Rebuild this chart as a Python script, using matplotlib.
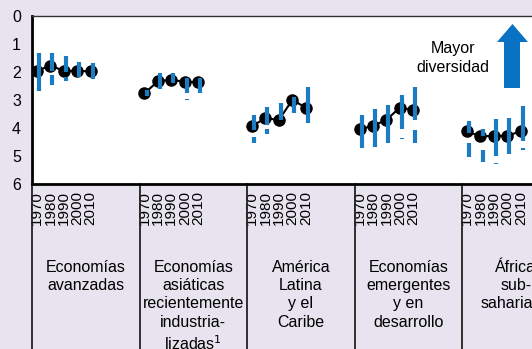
import numpy as np
import matplotlib
matplotlib.use("Agg")
import matplotlib.pyplot as plt
from matplotlib.transforms import blended_transform_factory
from matplotlib.lines import Line2D
from matplotlib.patches import Polygon

plt.rcParams['font.family'] = ['Liberation Sans', 'DejaVu Sans']

regions = ["Economías\navanzadas",
           "Economías\nasiáticas\nrecientemente\nindustria-\nlizadas$^{1}$",
           "América\nLatina\ny el\nCaribe",
           "Economías\nemergentes\ny en\ndesarrollo",
           "África\nsub-\nsahariana"]
years = ["1970", "1980", "1990", "2000", "2010"]

# index value (median) per region and decade
medians = [
    [1.95, 1.78, 1.95, 1.97, 1.97],
    [2.76, 2.33, 2.28, 2.35, 2.36],
    [3.93, 3.65, 3.71, 3.00, 3.27],
    [4.05, 3.92, 3.71, 3.27, 3.36],
    [4.12, 4.30, 4.28, 4.28, 4.11],
]
# blue range segments (first piece)
seg1_top = [
    [1.33, 1.33, 1.43, 1.63, 1.69],
    [2.65, 2.05, 2.05, 2.23, 2.23],
    [3.54, 3.26, 3.12, 2.88, 2.55],
    [3.54, 3.33, 3.18, 2.82, 2.55],
    [3.75, 4.04, 3.69, 3.63, 3.20],
]
seg1_bot = [
    [2.67, 1.98, 2.00, 2.19, 2.26],
    [2.85, 2.62, 2.40, 2.76, 2.76],
    [4.07, 3.89, 3.71, 3.48, 3.81],
    [4.73, 4.67, 4.52, 4.05, 3.71],
    [4.19, 4.30, 5.00, 4.94, 4.47],
]
# second piece (NaN = none)
nan = np.nan
seg2_top = [
    [nan, 2.10, 2.17, nan, nan],
    [nan, nan, nan, 2.96, nan],
    [4.31, 4.04, nan, nan, nan],
    [nan, nan, nan, 4.35, 4.07],
    [4.52, 4.79, 5.24, nan, 4.73],
]
seg2_bot = [
    [nan, 2.46, 2.31, nan, nan],
    [nan, nan, nan, 3.00, nan],
    [4.52, 4.23, nan, nan, nan],
    [nan, nan, nan, 4.39, 4.52],
    [5.02, 5.20, 5.28, nan, 4.77],
]

W, H = 532, 349
BG = '#e7e3ef'
BLUE = '#1b7cc4'
fig = plt.figure(figsize=(W / 100, H / 100), dpi=100, facecolor=BG)

unit = 13.44
left_px, top_px, bot_px = 32, 16, 184
ax = fig.add_axes([left_px / W, 1 - bot_px / H, 40 * unit / W, (bot_px - top_px) / H])
ax.set_facecolor('white')
ax.set_xlim(0, 40)
ax.set_ylim(6, 0)

GROUP = 8
x0 = 0.37
xpos = []
for g in range(5):
    xs = np.array([GROUP * g + x0 + j for j in range(5)])
    xpos.extend(xs)
    ax.plot(xs, medians[g], color='black', lw=1.5, marker='o', ms=8, zorder=3)
    xb = xs + 0.15
    ax.vlines(xb, seg1_top[g], seg1_bot[g], color=BLUE, lw=3.0, zorder=4)
    ax.vlines(xb, seg2_top[g], seg2_bot[g], color=BLUE, lw=3.0, zorder=4)

ax.set_yticks(range(7))
ax.tick_params(axis='y', length=0, pad=8, labelsize=11.5)
ax.set_xticks(xpos, labels=years * 5, rotation=90)
ax.tick_params(axis='x', length=0, pad=5, labelsize=11)

ax.spines['right'].set_visible(False)
ax.spines['left'].set_linewidth(2)
ax.spines['bottom'].set_linewidth(2)
ax.spines['top'].set_linewidth(1)
ax.spines['top'].set_color('#333333')

trans = blended_transform_factory(ax.transData, ax.transAxes)
for g in range(5):
    ax.add_line(Line2D([GROUP * g, GROUP * g], [0, -1.05], transform=trans,
                       color='#222222', lw=1.3, clip_on=False))
    ax.text(GROUP * g + 4, -0.45, regions[g], transform=trans, ha='center', va='top',
            fontsize=11.5, linespacing=1.28, clip_on=False)

# "Mayor diversidad" annotation with arrow
fig.text(453 / W, 1 - 58 / H, "Mayor\ndiversidad", ha='center', va='center',
         fontsize=11.5, linespacing=1.3)
pts_px = [(504, 88), (520, 88), (520, 42), (528, 42), (512.5, 24), (497, 42), (504, 42)]
arrow = Polygon([(x / W, 1 - y / H) for x, y in pts_px], closed=True,
                transform=fig.transFigure, facecolor='#0a72c2', edgecolor='none', zorder=5)
fig.patches.append(arrow)

fig.savefig('out.png', dpi=100, facecolor=BG)
